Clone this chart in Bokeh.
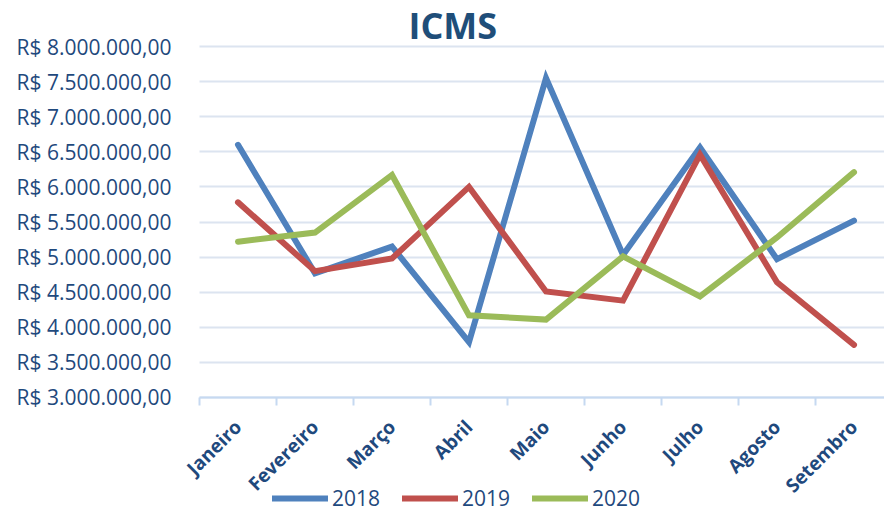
import math
from bokeh.plotting import figure
from bokeh.models import Range1d, FixedTicker, Legend, LegendItem, Label
from bokeh.embed import file_html
from bokeh.resources import INLINE

months = ["Janeiro", "Fevereiro", "Março", "Abril", "Maio", "Junho", "Julho", "Agosto", "Setembro"]
v2018 = [6600000, 4770000, 5150000, 3790000, 7550000, 5030000, 6560000, 4970000, 5520000]
v2019 = [5780000, 4800000, 4980000, 6000000, 4510000, 4380000, 6460000, 4640000, 3750000]
v2020 = [5220000, 5350000, 6170000, 4170000, 4110000, 5010000, 4440000, 5280000, 6210000]
y_ticks = [3000000, 3500000, 4000000, 4500000, 5000000, 5500000,
           6000000, 6500000, 7000000, 7500000, 8000000]
y_tick_labels = ["R$ 3.000.000,00", "R$ 3.500.000,00", "R$ 4.000.000,00", "R$ 4.500.000,00",
                 "R$ 5.000.000,00", "R$ 5.500.000,00", "R$ 6.000.000,00", "R$ 6.500.000,00",
                 "R$ 7.000.000,00", "R$ 7.500.000,00", "R$ 8.000.000,00"]
series_names = ["2018", "2019", "2020"]
colors = ["#4F81BD", "#C0504D", "#9BBB59"]
chart_title = "ICMS"

xs = list(range(1, len(months) + 1))
FONT = "Open Sans"
TXT = "#1F497D"
X_BOUNDS = (0.5, 9.396)

# frame spans the full height; the value axis 3M..8M occupies y=46..397 px
p = figure(width=884, height=512, output_backend="svg", toolbar_location=None,
           x_range=Range1d(0.1494, 9.396), y_range=Range1d(1361800, 8655300),
           min_border_left=172, min_border_right=0, min_border_top=0, min_border_bottom=0)
p.outline_line_color = None
p.background_fill_color = "white"
p.border_fill_color = "white"

# y axis
p.yaxis.ticker = FixedTicker(ticks=y_ticks)
p.yaxis.major_label_overrides = {t: l for t, l in zip(y_ticks, y_tick_labels)}
p.yaxis.axis_line_color = None
p.yaxis.major_tick_line_color = None
p.yaxis.minor_tick_line_color = None
p.yaxis.major_tick_out = 0
p.yaxis.major_tick_in = 0
p.yaxis.major_label_standoff = 1
p.yaxis.major_label_text_font = FONT
p.yaxis.major_label_text_font_size = "21px"
p.yaxis.major_label_text_color = TXT

# x axis, pinned at the bottom of the value scale
p.xaxis.fixed_location = y_ticks[0]
p.xaxis.bounds = X_BOUNDS
p.xaxis.ticker = FixedTicker(ticks=xs, minor_ticks=[x - 0.5 for x in xs] + [xs[-1] + 0.5])
p.xaxis.major_label_overrides = {x: m for x, m in zip(xs, months)}
p.xaxis.axis_line_color = "#C6D9F1"
p.xaxis.axis_line_width = 2
p.xaxis.major_tick_line_color = None
p.xaxis.major_tick_out = 0
p.xaxis.major_tick_in = 0
p.xaxis.minor_tick_line_color = "#C6D9F1"
p.xaxis.minor_tick_line_width = 2
p.xaxis.minor_tick_out = 8
p.xaxis.minor_tick_in = 0
p.xaxis.major_label_orientation = math.pi / 4
p.xaxis.major_label_standoff = 18
p.xaxis.major_label_text_font = FONT
p.xaxis.major_label_text_font_style = "bold"
p.xaxis.major_label_text_font_size = "19px"
p.xaxis.major_label_text_color = TXT

p.xgrid.grid_line_color = None
p.ygrid.grid_line_color = "#DCE4F0"
p.ygrid.grid_line_width = 2
try:
    p.ygrid.cross_bounds = X_BOUNDS
except Exception:
    pass

items = []
for name, vals, c in zip(series_names, [v2018, v2019, v2020], colors):
    r = p.line(xs, vals, line_color=c, line_width=6, line_cap="round", line_join="miter")
    items.append(LegendItem(label=name, renderers=[r]))

legend = Legend(items=items, orientation="horizontal", location=(100, 0))
legend.border_line_color = None
legend.background_fill_alpha = 0
legend.label_text_font = FONT
legend.label_text_font_size = "21px"
legend.label_text_color = TXT
legend.glyph_width = 56
legend.glyph_height = 20
legend.label_height = 20
legend.spacing = 22
legend.label_standoff = 4
legend.padding = 0
legend.margin = 0
p.add_layout(legend)

title = Label(x=3.79, y=8299000, text=chart_title, text_font=FONT, text_font_style="bold",
              text_font_size="36px", text_color="#1F4E79", text_align="center",
              text_baseline="alphabetic")
p.add_layout(title)

open("out.html", "w").write(file_html(p, INLINE))
